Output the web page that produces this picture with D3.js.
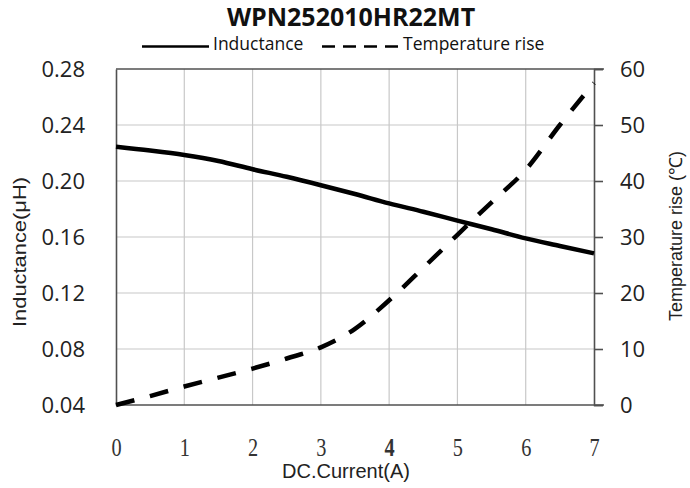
<!DOCTYPE html>
<html>
<head>
<meta charset="utf-8">
<script src="https://cdn.jsdelivr.net/npm/d3@7"></script>
<style>
  body { margin: 0; background: #fff; }
</style>
</head>
<body>
<div id="chart"></div>
<script>
// Data
const current = [0, 0.5, 1, 1.5, 2, 2.5, 3, 3.5, 4, 4.5, 5, 5.5, 6, 6.5, 7];
const inductance = [0.2245, 0.2218, 0.2186, 0.2143, 0.2084, 0.2030, 0.1970, 0.1907, 0.1840, 0.1780, 0.1717, 0.1655, 0.1590, 0.1536, 0.1483];
const tempRise = [0, 1.6, 3.3, 4.9, 6.5, 8.3, 10.3, 13.6, 18.7, 24.5, 30.4, 36.2, 42.0, 50.0, 57.5];
const xTicks = [0, 1, 2, 3, 4, 5, 6, 7];
const leftTicks = [0.04, 0.08, 0.12, 0.16, 0.20, 0.24, 0.28];
const rightTicks = [0, 10, 20, 30, 40, 50, 60];

const W = 690, H = 488;
const margin = {top: 69, right: 96, bottom: 83, left: 116},
      width = W - margin.left - margin.right,
      height = H - margin.top - margin.bottom;

const sans = "'Open Sans', sans-serif";
const arial = "'Liberation Sans', Arial, sans-serif";

const root = d3.select("#chart")
  .append("svg")
  .attr("width", W)
  .attr("height", H);

const svg = root.append("g")
  .attr("transform", `translate(${margin.left},${margin.top})`);

const x = d3.scaleLinear().domain([0, 7]).range([0, width]);
const yL = d3.scaleLinear().domain([0.04, 0.28]).range([height, 0]);
const yR = d3.scaleLinear().domain([0, 60]).range([height, 0]);

// grid
svg.append("g")
  .selectAll("line")
  .data(xTicks.slice(1, -1))
  .enter().append("line")
  .attr("x1", d => x(d)).attr("x2", d => x(d))
  .attr("y1", 0).attr("y2", height)
  .attr("stroke", "#c8c8c8").attr("stroke-width", 1.2);

svg.append("g")
  .selectAll("line")
  .data(leftTicks.slice(1, -1))
  .enter().append("line")
  .attr("x1", 0).attr("x2", width)
  .attr("y1", d => yL(d)).attr("y2", d => yL(d))
  .attr("stroke", "#c8c8c8").attr("stroke-width", 1.2);

// left axis
const gl = svg.append("g")
  .call(d3.axisLeft(yL).tickValues(leftTicks).tickSize(0).tickPadding(31).tickFormat(d3.format(".2f")));
gl.select(".domain").attr("stroke", "#505050").attr("stroke-width", 1.6);
gl.selectAll("text")
  .attr("font-family", sans).attr("font-size", 22).attr("fill", "#222");

// right axis
const gr = svg.append("g")
  .attr("transform", `translate(${width},0)`)
  .call(d3.axisRight(yR).tickValues(rightTicks).tickSize(9).tickPadding(17));
gr.select(".domain").attr("stroke", "#505050").attr("stroke-width", 1.6);
gr.selectAll(".tick line").attr("stroke", "#505050").attr("stroke-width", 1.6);
gr.selectAll("text")
  .attr("font-family", sans).attr("font-size", 22).attr("fill", "#222");

// bottom axis (tall narrow serif digits)
const gb = svg.append("g")
  .attr("transform", `translate(0,${height})`)
  .call(d3.axisBottom(x).tickValues(xTicks).tickSize(0).tickFormat(d3.format("d")));
gb.select(".domain").remove();
gb.selectAll("text")
  .attr("font-family", "'Liberation Serif', serif")
  .attr("font-size", 26)
  .attr("fill", "#333")
  .attr("y", 0).attr("dy", 0)
  .attr("font-weight", d => d === 4 ? "bold" : "normal")
  .attr("transform", "translate(0,51) scale(0.78,1)");

// frame lines top / bottom
svg.append("line")
  .attr("x1", 0).attr("x2", width + 10).attr("y1", 0).attr("y2", 0)
  .attr("stroke", "#505050").attr("stroke-width", 1.6);
svg.append("line")
  .attr("x1", 0).attr("x2", width + 10).attr("y1", height).attr("y2", height)
  .attr("stroke", "#505050").attr("stroke-width", 1.6);

// curves
const lineL = d3.line()
  .x((d, i) => x(current[i]))
  .y(d => yL(d))
  .curve(d3.curveMonotoneX);
const lineR = d3.line()
  .x((d, i) => x(current[i]))
  .y(d => yR(d))
  .curve(d3.curveMonotoneX);

svg.append("path")
  .datum(tempRise)
  .attr("d", lineR)
  .attr("fill", "none")
  .attr("stroke", "#000")
  .attr("stroke-width", 4.5)
  .attr("stroke-dasharray", "19,16");

svg.append("path")
  .datum(inductance)
  .attr("d", lineL)
  .attr("fill", "none")
  .attr("stroke", "#000")
  .attr("stroke-width", 4.5);

// title
root.append("text")
  .attr("x", 351).attr("y", 26)
  .attr("text-anchor", "middle")
  .attr("font-family", sans).attr("font-weight", "bold").attr("font-size", 25)
  .attr("fill", "#111")
  .text("WPN252010HR22MT");

// legend
root.append("line")
  .attr("x1", 142).attr("x2", 209).attr("y1", 46.5).attr("y2", 46.5)
  .attr("stroke", "#000").attr("stroke-width", 2.5);
root.append("text")
  .attr("x", 213).attr("y", 50)
  .attr("font-family", sans).attr("font-size", 17.5).attr("fill", "#111")
  .text("Inductance");
root.append("line")
  .attr("x1", 322).attr("x2", 398).attr("y1", 46.5).attr("y2", 46.5)
  .attr("stroke", "#000").attr("stroke-width", 2.5)
  .attr("stroke-dasharray", "13,8");
root.append("text")
  .attr("x", 403).attr("y", 50)
  .attr("font-family", sans).attr("font-size", 17.5).attr("fill", "#111")
  .text("Temperature rise");

// axis titles
root.append("text")
  .attr("x", 346).attr("y", 478)
  .attr("text-anchor", "middle")
  .attr("font-family", arial).attr("font-size", 20).attr("fill", "#222")
  .text("DC.Current(A)");

root.append("text")
  .attr("transform", "translate(26,252) rotate(-90)")
  .attr("text-anchor", "middle")
  .attr("font-family", arial).attr("font-size", 18).attr("fill", "#222")
  .attr("textLength", 150).attr("lengthAdjust", "spacingAndGlyphs")
  .text("Inductance(μH)");

root.append("text")
  .attr("transform", "translate(682,236) rotate(-90)")
  .attr("text-anchor", "middle")
  .attr("font-family", arial).attr("font-size", 18).attr("fill", "#222")
  .text("Temperature rise (℃)");
</script>
</body>
</html>
